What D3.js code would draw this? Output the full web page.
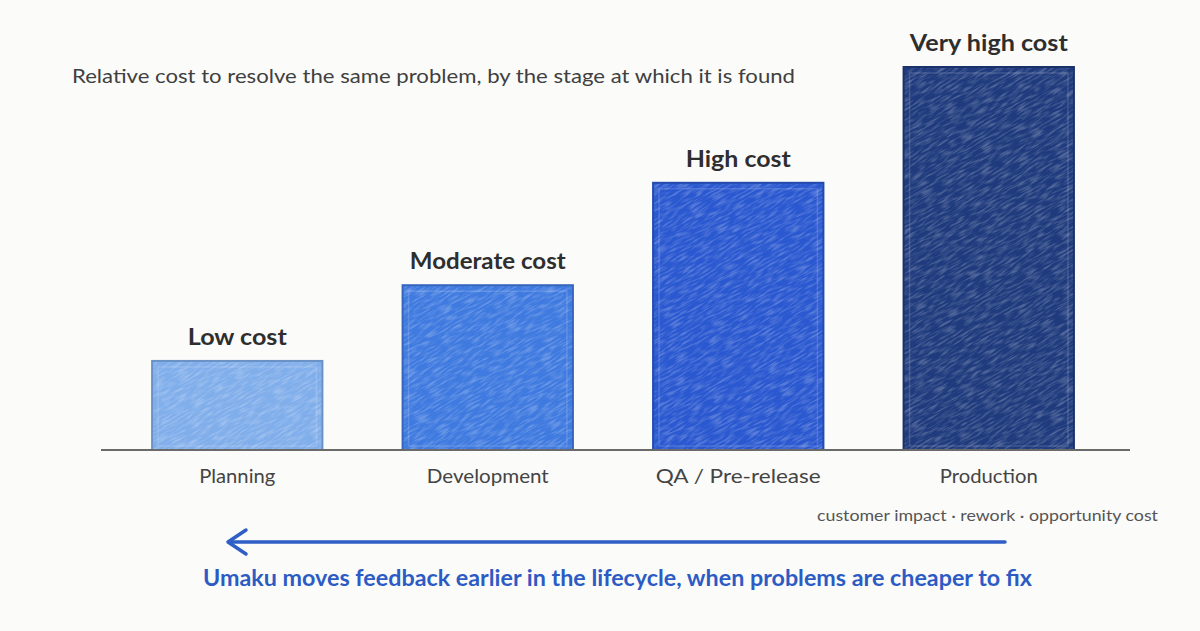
<!DOCTYPE html>
<html>
<head>
<meta charset="utf-8">
<script src="https://cdn.jsdelivr.net/npm/d3@7/dist/d3.min.js"></script>
<style>
  html, body { margin: 0; padding: 0; background: #fbfbfa; }
  svg { display: block; }
  text { font-family: "Lato", "Open Sans", sans-serif; }
</style>
</head>
<body>
<div id="chart"></div>
<script>
// chart values (relative cost, Planning = 1)
var stages = ["Planning", "Development", "QA / Pre-release", "Production"];
var costs = [1, 1.85, 3, 4.3];
var costLabels = ["Low cost", "Moderate cost", "High cost", "Very high cost"];
var barColors = ["#80aeeb", "#3f7ae0", "#2a58d0", "#1f3b7d"];
var labelWidths = [99, 156, 105, 158];
var stageWidths = [76, 122, 165, 98];

var width = 1200, height = 631;
var baseY = 450;

var svg = d3.select("#chart").append("svg")
    .attr("width", width)
    .attr("height", height);

svg.append("rect").attr("width", width).attr("height", height).attr("fill", "#fbfbfa");

var defs = svg.append("defs");

// crayon streaks: stretched noise turned into white alpha
var grain = defs.append("filter").attr("id", "grain")
    .attr("x", 0).attr("y", 0).attr("width", 1).attr("height", 1);
grain.append("feTurbulence")
    .attr("type", "fractalNoise")
    .attr("baseFrequency", "0.08 0.55")
    .attr("numOctaves", 2)
    .attr("seed", 7)
    .attr("result", "noise");
grain.append("feColorMatrix")
    .attr("in", "noise")
    .attr("type", "matrix")
    .attr("values", "0 0 0 0 1  0 0 0 0 1  0 0 0 0 1  0 0 0 -3 1.75");

var x = d3.scaleBand()
    .domain(stages)
    .range([112, 1114])
    .paddingInner(0.32)
    .paddingOuter(0.16);

var y = d3.scaleLinear()
    .domain([0, 4.3])
    .range([baseY, 67]);

// title
svg.append("text")
    .attr("x", 72).attr("y", 83)
    .attr("font-size", 20)
    .attr("fill", "#404040")
    .attr("textLength", 723).attr("lengthAdjust", "spacingAndGlyphs")
    .text("Relative cost to resolve the same problem, by the stage at which it is found");

var bars = svg.selectAll("g.bar")
    .data(stages)
    .enter().append("g")
    .attr("class", "bar");

bars.each(function(d, i) {
    var g = d3.select(this);
    var bx = x(d), bw = x.bandwidth(), by = y(costs[i]), bh = baseY - y(costs[i]);

    defs.append("clipPath").attr("id", "clip" + i)
        .append("rect").attr("x", bx).attr("y", by).attr("width", bw).attr("height", bh);

    g.append("rect")
        .attr("x", bx).attr("y", by)
        .attr("width", bw).attr("height", bh)
        .attr("fill", barColors[i]);

    // texture overlay
    g.append("g").attr("clip-path", "url(#clip" + i + ")")
        .append("rect")
        .attr("x", bx - 150).attr("y", by - 150)
        .attr("width", bw + 300).attr("height", bh + 300)
        .attr("transform", "rotate(-30," + (bx + bw / 2) + "," + (by + bh / 2) + ")")
        .attr("filter", "url(#grain)")
        .attr("opacity", 0.22);

    // inner pencil line
    g.append("rect")
        .attr("x", bx + 6).attr("y", by + 6)
        .attr("width", bw - 12).attr("height", bh - 10)
        .attr("fill", "none")
        .attr("stroke", "#ffffff")
        .attr("stroke-opacity", 0.15)
        .attr("stroke-width", 1.5);

    // outline
    g.append("rect")
        .attr("x", bx).attr("y", by)
        .attr("width", bw).attr("height", bh)
        .attr("fill", "none")
        .attr("stroke", d3.color(barColors[i]).darker(0.5))
        .attr("stroke-width", 2);

    // cost label above the bar
    g.append("text")
        .attr("x", bx + bw / 2).attr("y", by - 16)
        .attr("text-anchor", "middle")
        .attr("font-size", 23)
        .attr("font-weight", "bold")
        .attr("fill", "#2e2e2e")
        .attr("textLength", labelWidths[i]).attr("lengthAdjust", "spacingAndGlyphs")
        .text(costLabels[i]);

    // stage name below the baseline
    g.append("text")
        .attr("x", bx + bw / 2).attr("y", 483)
        .attr("text-anchor", "middle")
        .attr("font-size", 20)
        .attr("fill", "#444")
        .attr("textLength", stageWidths[i]).attr("lengthAdjust", "spacingAndGlyphs")
        .text(d);
});

// baseline
svg.append("line")
    .attr("x1", 101).attr("x2", 1130)
    .attr("y1", baseY).attr("y2", baseY)
    .attr("stroke", "#6a6a6a")
    .attr("stroke-width", 2);

// note under production
svg.append("text")
    .attr("x", 1158).attr("y", 521)
    .attr("text-anchor", "end")
    .attr("font-size", 16)
    .attr("fill", "#555")
    .attr("textLength", 341).attr("lengthAdjust", "spacingAndGlyphs")
    .text("customer impact \u00b7 rework \u00b7 opportunity cost");

// arrow pointing back to earlier stages
svg.append("line")
    .attr("x1", 1005).attr("x2", 229)
    .attr("y1", 542).attr("y2", 542)
    .attr("stroke", "#2f5ec6")
    .attr("stroke-width", 3.5)
    .attr("stroke-linecap", "round");

svg.append("path")
    .attr("d", "M246,530 L228,542 L246,554")
    .attr("fill", "none")
    .attr("stroke", "#2f5ec6")
    .attr("stroke-width", 3.5)
    .attr("stroke-linecap", "round")
    .attr("stroke-linejoin", "round");

svg.append("text")
    .attr("x", 203).attr("y", 586)
    .attr("font-size", 23)
    .attr("font-weight", "bold")
    .attr("fill", "#2d5bc4")
    .attr("textLength", 829).attr("lengthAdjust", "spacingAndGlyphs")
    .text("Umaku moves feedback earlier in the lifecycle, when problems are cheaper to fix");
</script>
</body>
</html>
